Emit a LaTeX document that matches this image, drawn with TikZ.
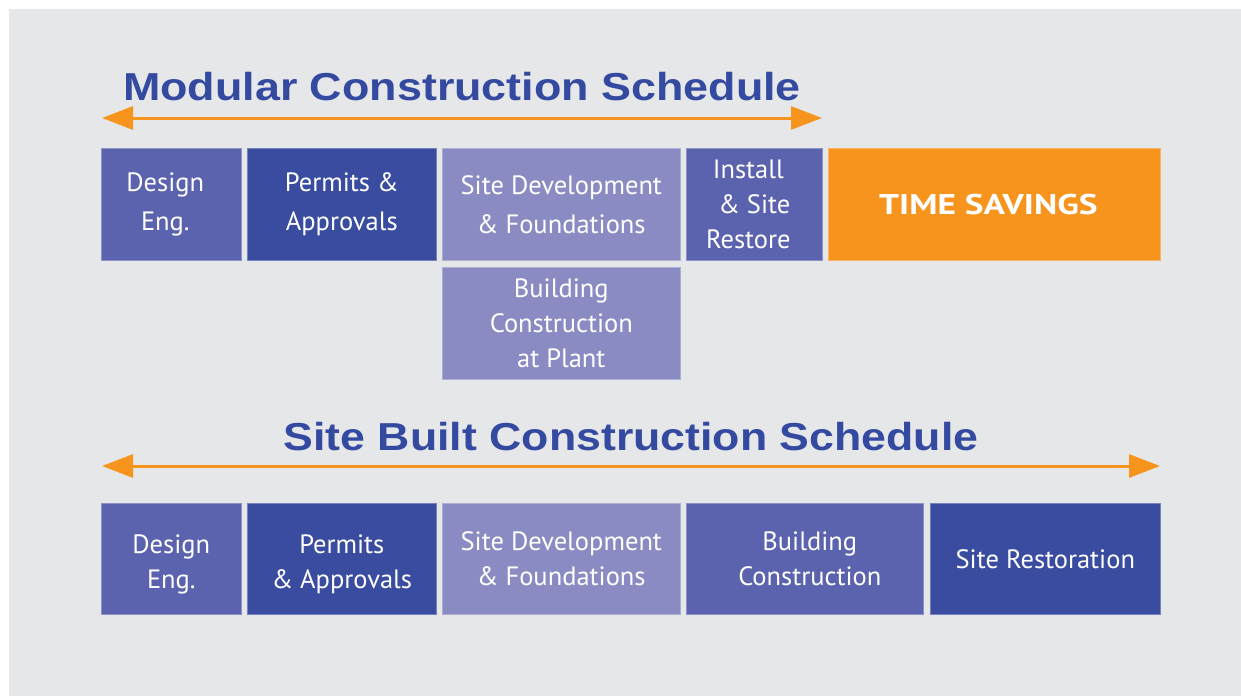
\documentclass[tikz,border=0pt]{standalone}
\usepackage{fontspec}
\setmainfont{PT Sans}
\newfontfamily\titlefont{Liberation Sans}
\usetikzlibrary{arrows.meta}
\definecolor{bg}{HTML}{E6E7E9}
\definecolor{midblue}{HTML}{5B62AE}
\definecolor{darkblue}{HTML}{3A4CA0}
\definecolor{lightblue}{HTML}{8A8BC2}
\definecolor{orng}{HTML}{F7941E}
\definecolor{titleblue}{HTML}{3449A0}
\newcommand{\shl}[1]{#1\hspace*{12pt}}
\newcommand{\shr}[1]{\hspace*{10pt}#1}
\begin{document}
\begin{tikzpicture}[x=1pt,y=-1pt,
  box/.style={anchor=north west, inner sep=0pt, align=center, text=white,
    font=\fontsize{26.5}{35}\selectfont, draw=white!30!#1, line width=0.6pt, fill=#1},
  ttl/.style={font=\titlefont\bfseries\fontsize{39}{39}\selectfont, text=titleblue, inner sep=0pt},
  arr/.style={draw=orng, line width=3pt, {Triangle[length=31pt,width=23pt]}-{Triangle[length=31pt,width=23pt]}}]
\useasboundingbox (0,0) rectangle (1241,696);
\fill[white] (0,0) rectangle (1241,696);
\fill[bg] (9,9) rectangle (1241,696);

% titles
\node[ttl] (t1) at (462,87) {\scalebox{1.15}[1]{Modular Construction Schedule}};
\node[ttl] (t2) at (631,437) {\scalebox{1.145}[1]{Site Built Construction Schedule}};

% arrows
\coordinate (a1l) at (102,118);
\coordinate (a1r) at (822,118);
\draw[arr] (a1l) -- (a1r);
\coordinate (a2l) at (102,466);
\coordinate (a2r) at (1160,466);
\draw[arr] (a2l) -- (a2r);

% modular row
\node[box=midblue, minimum width=140pt, minimum height=112pt, font=\fontsize{26.5}{39}\selectfont] (m1) at (101,148) {\shl{Design}\\\shl{Eng.}};
\node[box=darkblue, minimum width=189pt, minimum height=112pt, font=\fontsize{26.5}{39}\selectfont] (m2) at (247,148) {Permits \&\\Approvals};
\node[box=lightblue, minimum width=238pt, minimum height=112pt, font=\fontsize{26.5}{39}\selectfont] (m3) at (442,148) {Site Development\\\& Foundations};
\node[box=midblue, minimum width=136pt, minimum height=112pt] (m4) at (686,148) {\shl{Install}\\\shl{\& Site}\\\shl{Restore}};
\node[box=orng, minimum width=332pt, minimum height=112pt, font=\bfseries\fontsize{28.5}{35}\selectfont] (m5) at (828,148) {\scalebox{1.24}[1]{TIME SAVINGS}\hspace*{12pt}};
\node[box=lightblue, minimum width=238pt, minimum height=112pt] (m6) at (442,267) {Building\\Construction\\at Plant};

% site built row
\node[box=midblue, minimum width=140pt, minimum height=111pt] (s1) at (101,503) {\rule{0pt}{30pt}Design\\Eng.};
\node[box=darkblue, minimum width=189pt, minimum height=111pt] (s2) at (247,503) {\rule{0pt}{30pt}Permits\\\& Approvals};
\node[box=lightblue, minimum width=238pt, minimum height=111pt] (s3) at (442,503) {Site Development\\\& Foundations};
\node[box=midblue, minimum width=237pt, minimum height=111pt] (s4) at (686,503) {\shr{Building}\\\shr{Construction}};
\node[box=darkblue, minimum width=230pt, minimum height=111pt] (s5) at (930,503) {Site Restoration};
\end{tikzpicture}
\end{document}
